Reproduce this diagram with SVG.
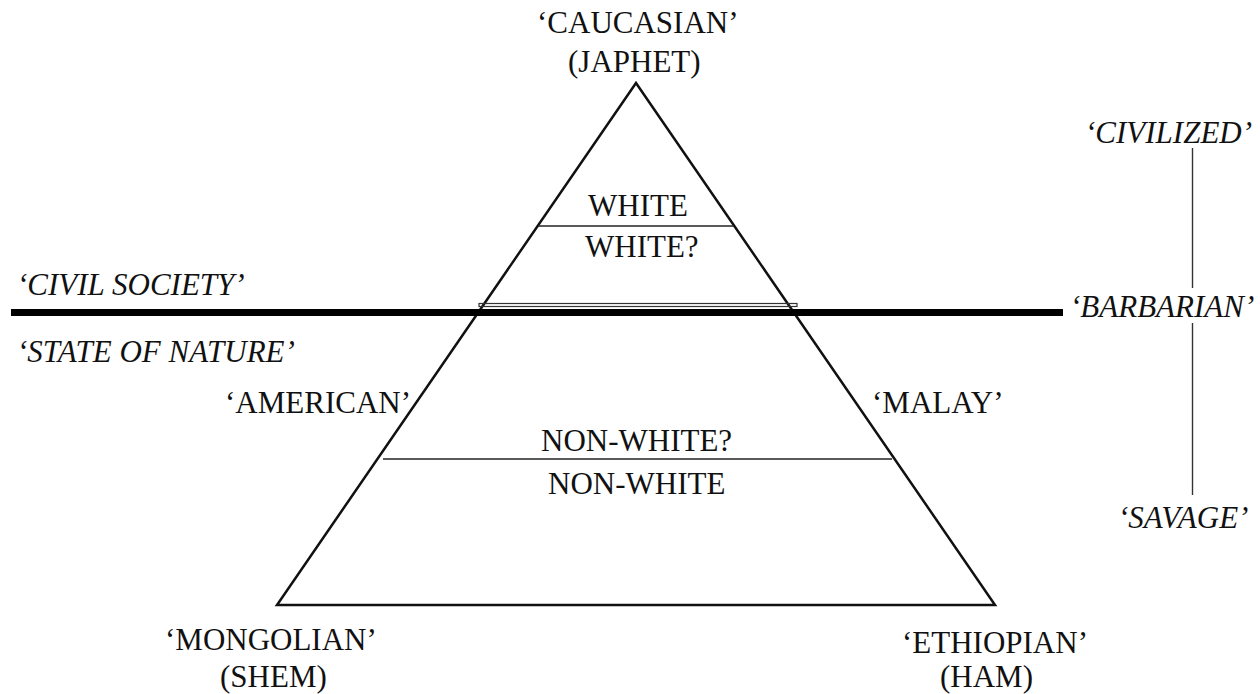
<svg xmlns="http://www.w3.org/2000/svg" width="1260" height="694" viewBox="0 0 1260 694">
<style>
text{font-family:"Liberation Serif","Times New Roman",serif;font-size:31px;fill:#111}
.it{font-style:italic}
.edge{fill:none;stroke:#111;stroke-width:2.5;stroke-linejoin:miter}
.div{stroke:#222;stroke-width:1.6}
.conn{stroke:#333;stroke-width:1.4}
</style>
<rect width="1260" height="694" fill="#fff"/>
<g id="pyramid">
<polygon class="edge" points="636,83 995,605 277,605"/>
<line class="div" x1="538" y1="226" x2="734" y2="226"/>
<line class="div" x1="383" y1="459" x2="892" y2="459"/>
<rect x="479" y="303.5" width="318" height="3" fill="none" stroke="#333" stroke-width="1.2"/>
</g>
<g id="divide">
<line x1="11" y1="312.5" x2="1063" y2="312.5" stroke="#000" stroke-width="7"/>
</g>
<g id="connectors">
<line class="conn" x1="1192.5" y1="148" x2="1192.5" y2="288"/>
<line class="conn" x1="1192.5" y1="323" x2="1192.5" y2="495"/>
</g>
<g id="caucasian"><text x="537" y="33">‘CAUCASIAN’</text><text x="568" y="72">(JAPHET)</text></g>
<g id="white"><text x="588" y="216">WHITE</text></g>
<g id="white-q"><text x="585" y="257">WHITE?</text></g>
<g id="nonwhite-q"><text x="541" y="451">NON-WHITE?</text></g>
<g id="nonwhite"><text x="548" y="494">NON-WHITE</text></g>
<g id="american"><text x="225" y="413">‘AMERICAN’</text></g>
<g id="malay"><text x="872" y="413">‘MALAY’</text></g>
<g id="mongolian"><text x="165" y="650">‘MONGOLIAN’</text><text x="220" y="687">(SHEM)</text></g>
<g id="ethiopian"><text x="902" y="653">‘ETHIOPIAN’</text><text x="940" y="687">(HAM)</text></g>
<g id="civil-society"><text class="it" x="17" y="295">‘CIVIL SOCIETY’</text></g>
<g id="state-of-nature"><text class="it" x="17" y="362">‘STATE OF NATURE’</text></g>
<g id="civilized"><text class="it" x="1085" y="143">‘CIVILIZED’</text></g>
<g id="barbarian"><text class="it" x="1070" y="317">‘BARBARIAN’</text></g>
<g id="savage"><text class="it" x="1118" y="528">‘SAVAGE’</text></g>
</svg>
